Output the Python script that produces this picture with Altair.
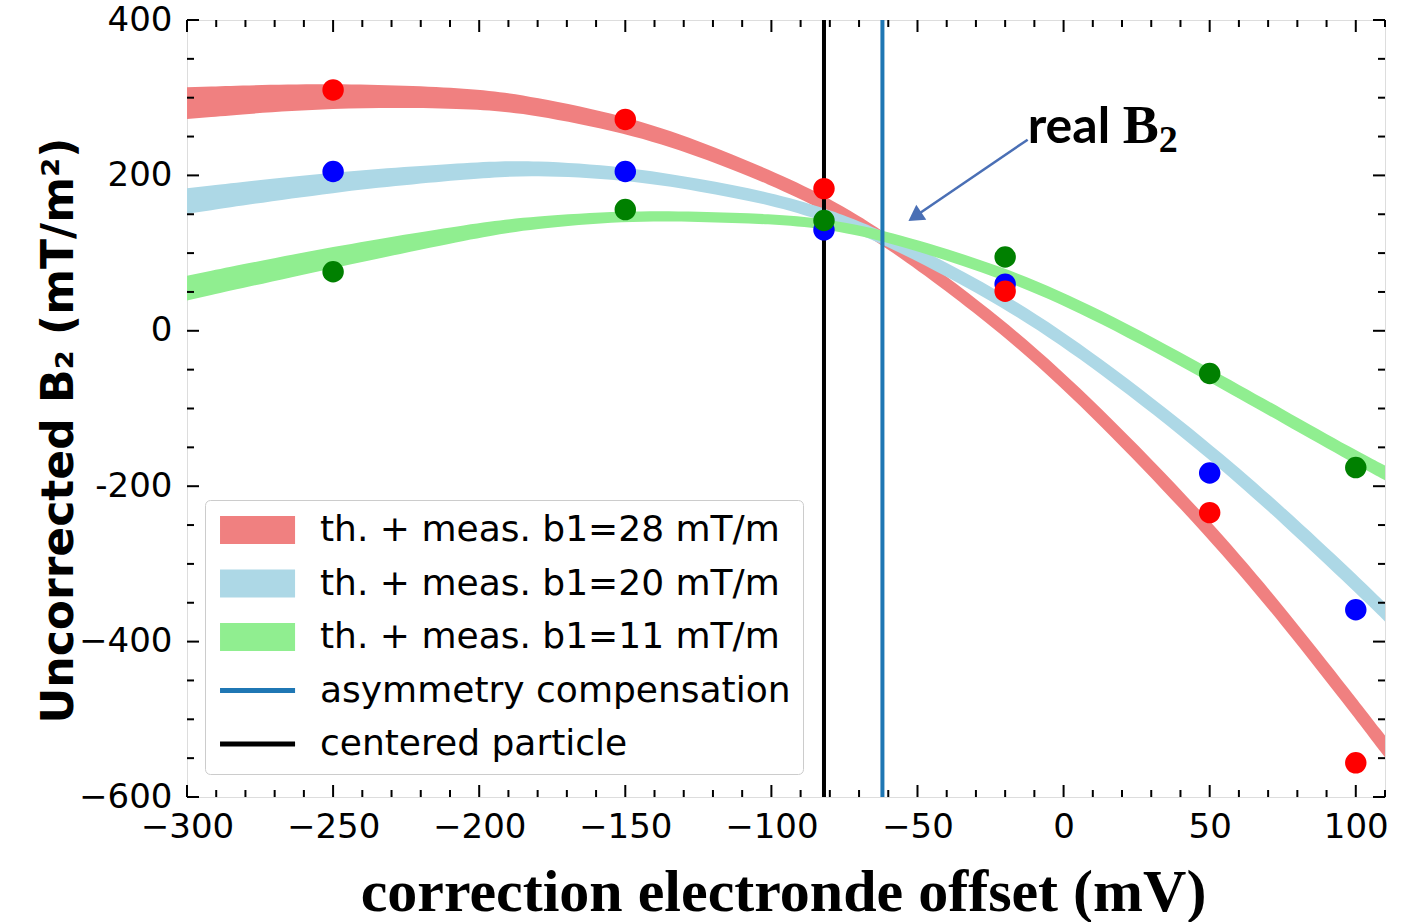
import altair as alt
import pandas as pd

# ---------------- data ----------------
# scatter measurements (x in mV, y in mT/m^2)
meas_x = [-250, -150, -82, -20, 50, 100]
red_y = [310, 272, 183, 51, -234, -556]
blue_y = [205, 205, 130, 60, -183, -359]
green_y = [76, 156, 142, 95, -55, -176]

# theory + measurement bands: centre and vertical thickness
band_x = [-300, -250, -200, -182, -150, -125, -100, -82, -62, -20, 12, 50, 75, 100, 110]
red_c = [293, 304, 299, 290, 266, 235, 197, 165, 122, 5, -106, -255, -366, -486, -535]
red_w = [41, 31, 26, 23, 22, 20, 19, 19, 19, 20, 23, 25, 26, 27, 28]
blue_c = [167, 192, 207, 210, 203, 188, 170, 150, 122, 40, -42, -154, -237, -325, -362]
blue_w = [33, 26, 21, 19, 17, 16, 16, 17, 17, 19, 20, 21, 23, 24, 24]
green_c = [55, 95, 130, 139, 148, 147, 144, 138, 124, 75, 21, -57, -110, -163, -183]
green_w = [32, 28, 19, 16, 13, 13, 13, 13, 14, 16, 17, 18, 18, 18, 19]

centered_x = [-82]
asym_x = [-62]

labels = ["th. + meas. b1=28 mT/m", "th. + meas. b1=20 mT/m", "th. + meas. b1=11 mT/m",
          "asymmetry compensation", "centered particle"]
legend_colors = ["#f08080", "#add8e6", "#90ee90", "#1f77b4", "#000000"]

x_major = [-300, -250, -200, -150, -100, -50, 0, 50, 100]
x_minor = [v for v in range(-290, 111, 10) if v % 50 != 0]
y_major = [-600, -400, -200, 0, 200, 400]
y_minor = [v for v in range(-550, 400, 50) if v % 200 != 0]

# annotation "real B2" with arrow (data coordinates)
note_xy = [-12.3, 262]
arrow_start = [-12.3, 246]
arrow_end = [-50.9, 147]

W, H = 1198, 777
XDOM = [-300, 110]
YDOM = [-600, 400]

xs = alt.Scale(domain=XDOM, nice=False, zero=False)
ys = alt.Scale(domain=YDOM, nice=False, zero=False)

base_font = "DejaVu Sans"

# ---------------- layers ----------------
layers = []

def band_df(c, w):
    return pd.DataFrame({"x": band_x,
                         "top": [ci + wi / 2 for ci, wi in zip(c, w)],
                         "bot": [ci - wi / 2 for ci, wi in zip(c, w)]})

for c, w, col in [(red_c, red_w, "#f08080"), (blue_c, blue_w, "#add8e6"), (green_c, green_w, "#90ee90")]:
    layers.append(
        alt.Chart(band_df(c, w)).mark_area(interpolate="basis", color=col, opacity=1).encode(
            x=alt.X("x:Q", scale=xs),
            y=alt.Y("top:Q", scale=ys),
            y2="bot:Q",
        )
    )

# vertical lines
layers.append(alt.Chart(pd.DataFrame({"x": centered_x})).mark_rule(color="black", strokeWidth=4).encode(
    x=alt.X("x:Q", scale=xs)))
layers.append(alt.Chart(pd.DataFrame({"x": asym_x})).mark_rule(color="#1f77b4", strokeWidth=4).encode(
    x=alt.X("x:Q", scale=xs)))

# scatter points
for yv, col in [(blue_y, "#0000ff"), (red_y, "#ff0000"), (green_y, "#008000")]:
    layers.append(
        alt.Chart(pd.DataFrame({"x": meas_x, "y": yv})).mark_circle(color=col, opacity=1, size=460).encode(
            x=alt.X("x:Q", scale=xs),
            y=alt.Y("y:Q", scale=ys),
        )
    )

# ticks (inward), drawn through the scales
tick_col = "black"
def xticks(vals, length):
    d = pd.DataFrame({"x": vals})
    top = alt.Chart(d).mark_rule(color=tick_col, strokeWidth=2).encode(
        x=alt.X("x:Q", scale=xs), y=alt.value(0), y2=alt.value(length))
    bot = alt.Chart(d).mark_rule(color=tick_col, strokeWidth=2).encode(
        x=alt.X("x:Q", scale=xs), y=alt.value(H), y2=alt.value(H - length))
    return [top, bot]

def yticks(vals, length):
    d = pd.DataFrame({"y": vals})
    left = alt.Chart(d).mark_rule(color=tick_col, strokeWidth=2).encode(
        y=alt.Y("y:Q", scale=ys), x=alt.value(0), x2=alt.value(length))
    right = alt.Chart(d).mark_rule(color=tick_col, strokeWidth=2).encode(
        y=alt.Y("y:Q", scale=ys), x=alt.value(W), x2=alt.value(W - length))
    return [left, right]

layers += xticks(x_major, 12) + xticks(x_minor, 7) + yticks(y_major, 12) + yticks(y_minor, 7)

# annotation arrow
arrow_df = pd.DataFrame({"x": [arrow_start[0]], "y": [arrow_start[1]],
                         "x2": [arrow_end[0]], "y2": [arrow_end[1]]})
layers.append(alt.Chart(arrow_df).mark_rule(color="#4a6fb5", strokeWidth=2.5).encode(
    x=alt.X("x:Q", scale=xs), y=alt.Y("y:Q", scale=ys), x2="x2:Q", y2="y2:Q"))
layers.append(alt.Chart(pd.DataFrame({"x": [arrow_end[0]], "y": [arrow_end[1]]})).mark_point(
    shape="triangle-up", filled=True, color="#4a6fb5", opacity=1, size=320, angle=236).encode(
    x=alt.X("x:Q", scale=xs), y=alt.Y("y:Q", scale=ys)))

note_df = pd.DataFrame({"x": [note_xy[0]], "y": [note_xy[1]]})
layers.append(alt.Chart(note_df).mark_text(text="real", font="Lato", fontWeight="bold", fontSize=50,
                                           align="left", baseline="alphabetic", dy=16, color="black").encode(
    x=alt.X("x:Q", scale=xs), y=alt.Y("y:Q", scale=ys)))
layers.append(alt.Chart(note_df).mark_text(text="B", font="Liberation Serif", fontWeight="bold", fontSize=54,
                                           align="left", baseline="alphabetic", dx=95, dy=16, color="black").encode(
    x=alt.X("x:Q", scale=xs), y=alt.Y("y:Q", scale=ys)))
layers.append(alt.Chart(note_df).mark_text(text="2", font="Liberation Serif", fontWeight="bold", fontSize=38,
                                           align="left", baseline="alphabetic", dx=131, dy=25, color="black").encode(
    x=alt.X("x:Q", scale=xs), y=alt.Y("y:Q", scale=ys)))

# legend (built by the library from a dummy layer with an explicit domain)
rect_path = "M-1.07,-1H4.29V1H-1.07Z"
line_path = "M-1.07,-0.17H4.29V0.17H-1.07Z"
shapes = [rect_path, rect_path, rect_path, line_path, line_path]
leg = alt.Legend(
    title=None, orient="none", legendX=18, legendY=480,
    symbolSize=784, symbolStrokeWidth=0, symbolOpacity=1,
    labelFont=base_font, labelFontSize=36, labelColor="black", labelOffset=67,
    labelBaseline="middle", labelLimit=1000,
    rowPadding=17.5, padding=12, strokeColor="#cccccc", fillColor="white", cornerRadius=5,
    direction="vertical",
)
legend_layer = alt.Chart(pd.DataFrame({"label": labels})).transform_filter("false").mark_point(
    filled=True, opacity=1).encode(
    color=alt.Color("label:N", scale=alt.Scale(domain=labels, range=legend_colors), legend=leg),
    shape=alt.Shape("label:N", scale=alt.Scale(domain=labels, range=shapes), legend=leg),
)
layers.append(legend_layer)

# axes carriers
axis_layer = alt.Chart(pd.DataFrame({"x": [XDOM[0]], "y": [YDOM[0]]})).mark_point(opacity=0).encode(
    x=alt.X("x:Q", scale=xs, axis=alt.Axis(
        values=x_major, title="correction electronde offset (mV)",
        titleFont="Liberation Serif", titleFontWeight="bold", titleFontSize=60,
        titleX=596, titleY=113, titleBaseline="alphabetic", titleAlign="center",
        labelFont=base_font, labelFontSize=34, labelPadding=13, labelColor="black",
        ticks=False, domain=False, grid=False, labelFlush=False)),
    y=alt.Y("y:Q", scale=ys, axis=alt.Axis(
        values=y_major, title="Uncorrected B₂ (mT/m²)",
        titleFont=base_font, titleFontWeight="bold", titleFontSize=44,
        titleX=-115, titleY=410, titleAngle=270, titleBaseline="alphabetic", titleAlign="center",
        labelFont=base_font, labelFontSize=34, labelPadding=15, labelColor="black",
        labelExpr="datum.value == -200 ? '-200' : datum.label",
        ticks=False, domain=False, grid=False, labelFlush=False)),
)

chart = alt.layer(axis_layer, *layers).properties(
    width=W, height=H,
    autosize=alt.AutoSizeParams(type="none"),
    padding={"left": 187, "top": 20, "right": 28, "bottom": 125},
).configure_view(stroke="black", strokeWidth=2.5).configure(background="white")

chart.save("out.html", embed_options={"renderer": "svg", "actions": False})
